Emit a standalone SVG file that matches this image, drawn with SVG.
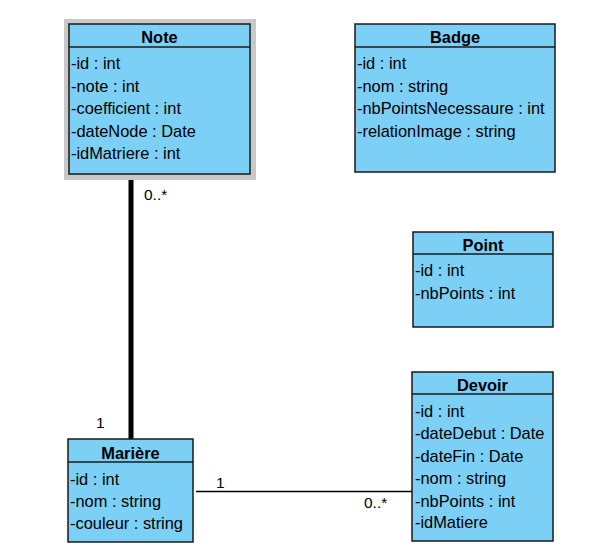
<svg xmlns="http://www.w3.org/2000/svg" width="595" height="552" viewBox="0 0 595 552">
<style>
.box{fill:#7ccff5;stroke:#1a1a1a;stroke-width:1.5}
.sep{stroke:#1a1a1a;stroke-width:1.5}
.t{font-family:"Liberation Sans",Arial,sans-serif;font-size:16.4px;fill:#000}
.h{font-family:"Liberation Sans",Arial,sans-serif;font-size:16.4px;font-weight:bold;fill:#000;text-anchor:middle}
.l{font-family:"Liberation Sans",Arial,sans-serif;font-size:15.5px;fill:#000}
</style>
<rect width="595" height="552" fill="#fff"/>
<g id="connectors">
<line x1="131" y1="178" x2="131" y2="439" stroke="#000" stroke-width="5"/>
<text class="l" x="144" y="200">0..*</text>
<text class="l" x="96" y="428">1</text>
<line x1="196" y1="491.5" x2="412" y2="491.5" stroke="#000" stroke-width="1.5"/>
<text class="l" x="216" y="488">1</text>
<text class="l" x="364" y="508">0..*</text>
</g>
<g id="Note">
<rect x="64" y="19" width="192" height="161" fill="#c8c8c8"/>
<rect class="box" x="69" y="24" width="181" height="150"/>
<line class="sep" x1="69" y1="47" x2="250" y2="47"/>
<text class="h" x="159.5" y="42.5">Note</text>
<text class="t" x="71" y="69">-id : int</text>
<text class="t" x="71" y="91.5">-note : int</text>
<text class="t" x="71" y="114">-coefficient : int</text>
<text class="t" x="71" y="136.5">-dateNode : Date</text>
<text class="t" x="71" y="159">-idMatriere : int</text>
</g>
<g id="Badge">
<rect class="box" x="355" y="24" width="200" height="148"/>
<line class="sep" x1="355" y1="47" x2="555" y2="47"/>
<text class="h" x="455" y="42.5">Badge</text>
<text class="t" x="357" y="69">-id : int</text>
<text class="t" x="357" y="91.5">-nom : string</text>
<text class="t" x="357" y="114">-nbPointsNecessaure : int</text>
<text class="t" x="357" y="136.5">-relationImage : string</text>
</g>
<g id="Point">
<rect class="box" x="413" y="232" width="140" height="95"/>
<line class="sep" x1="413" y1="254" x2="553" y2="254"/>
<text class="h" x="483" y="250.5">Point</text>
<text class="t" x="415" y="276">-id : int</text>
<text class="t" x="415" y="298.5">-nbPoints : int</text>
</g>
<g id="Devoir">
<rect class="box" x="412" y="372" width="141" height="169"/>
<line class="sep" x1="412" y1="394" x2="553" y2="394"/>
<text class="h" x="482.5" y="390.5">Devoir</text>
<text class="t" x="415" y="416.5">-id : int</text>
<text class="t" x="415" y="439">-dateDebut : Date</text>
<text class="t" x="415" y="461.5">-dateFin : Date</text>
<text class="t" x="415" y="484">-nom : string</text>
<text class="t" x="415" y="506.5">-nbPoints : int</text>
<text class="t" x="415" y="528">-idMatiere</text>
</g>
<g id="Mariere">
<rect class="box" x="68" y="439" width="125" height="103"/>
<line class="sep" x1="68" y1="462" x2="193" y2="462"/>
<text class="h" x="130.5" y="458.5">Marière</text>
<text class="t" x="70" y="484.5">-id : int</text>
<text class="t" x="70" y="507">-nom : string</text>
<text class="t" x="70" y="529">-couleur : string</text>
</g>
</svg>
